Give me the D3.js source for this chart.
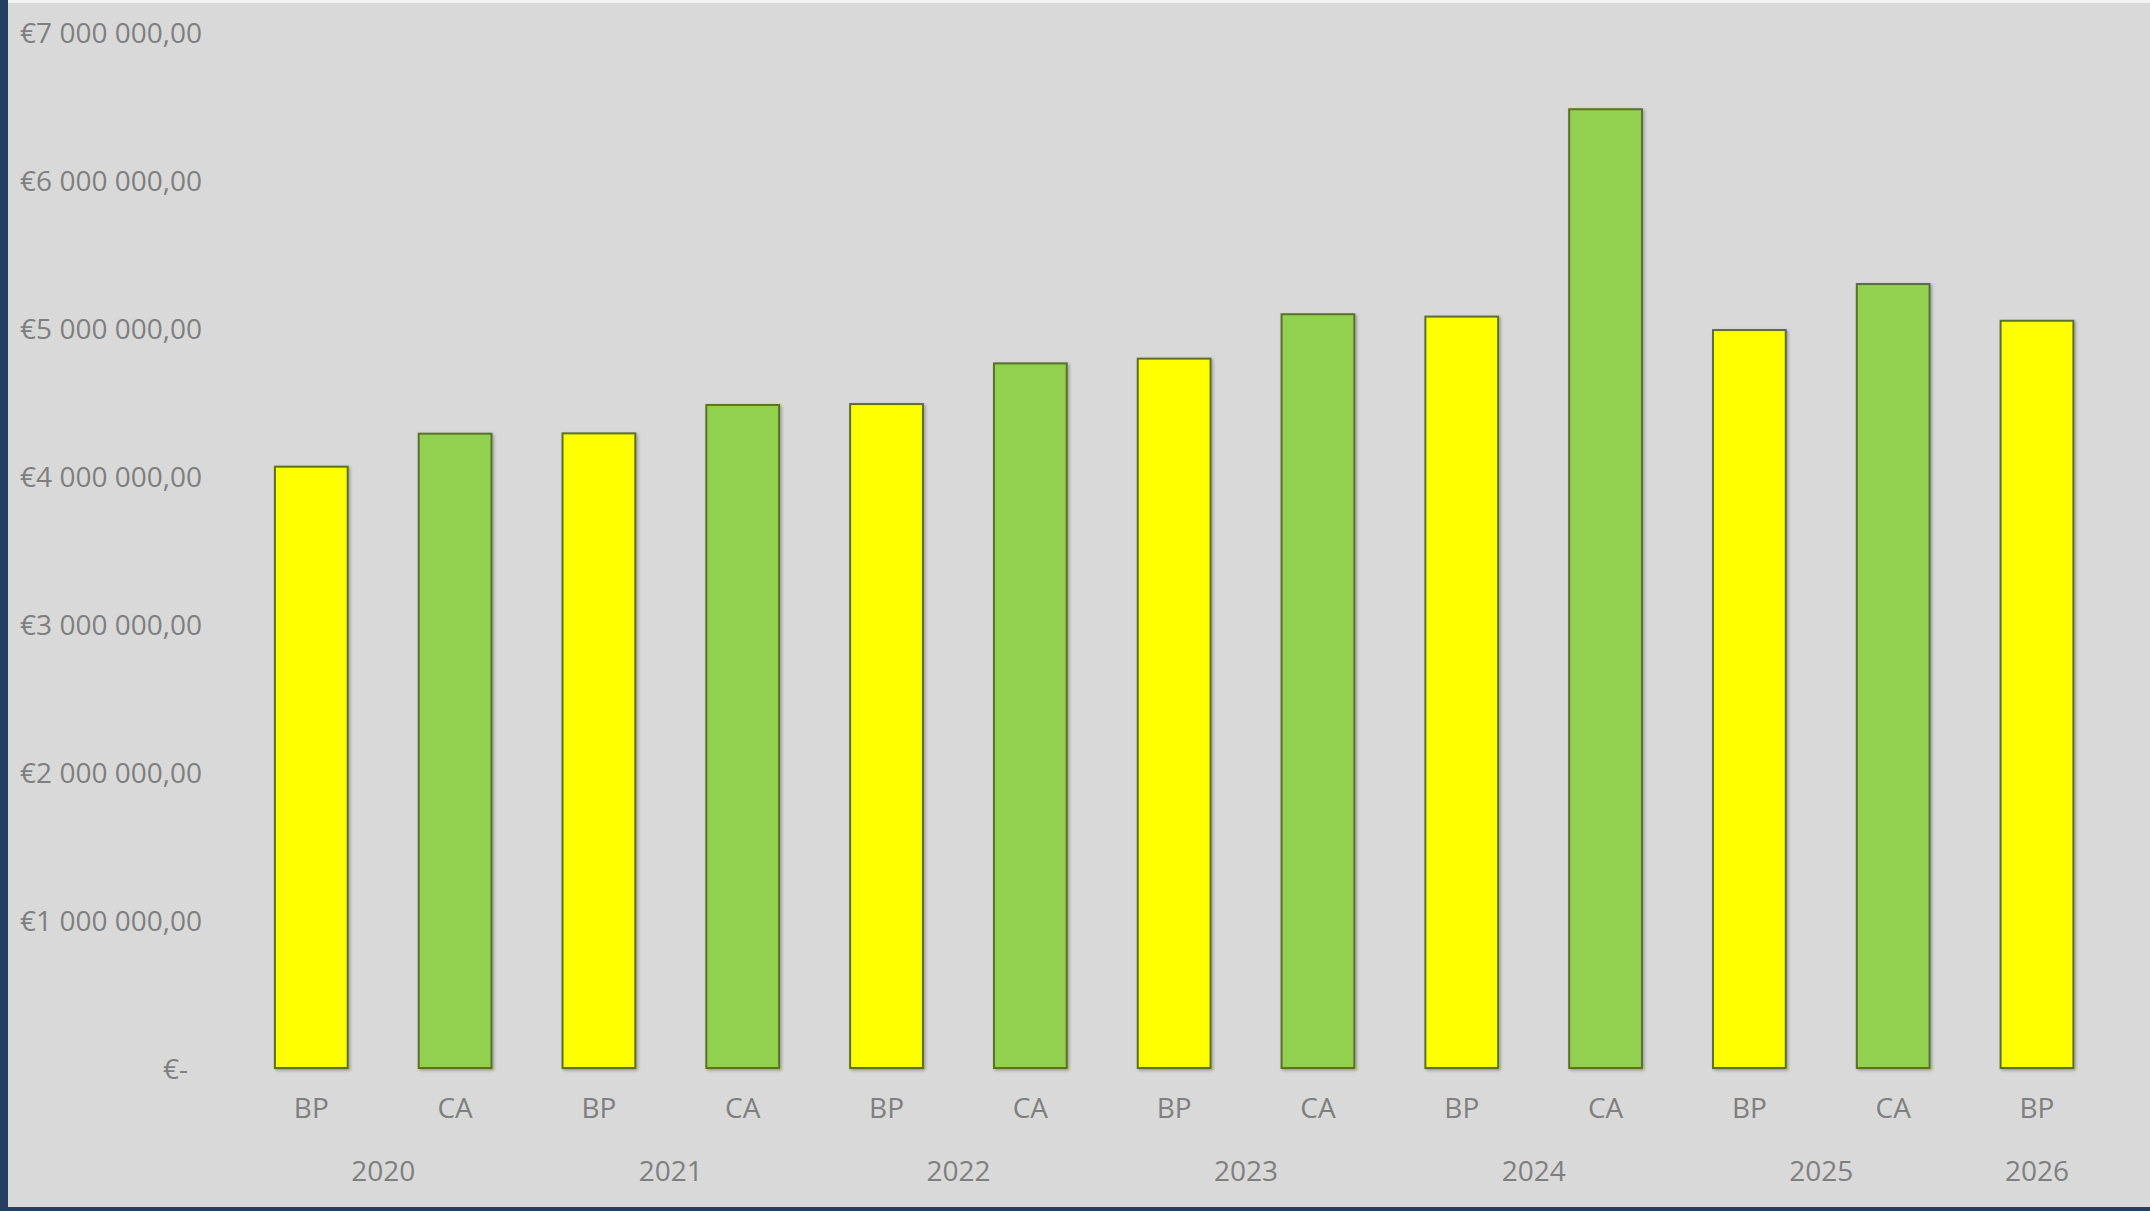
<!DOCTYPE html>
<html>
<head>
<meta charset="utf-8">
<script src="https://cdn.jsdelivr.net/npm/d3@7"></script>
<style>
  html, body { margin: 0; padding: 0; background: #D9D9D9; }
  svg { display: block; }
  text { font-family: "Open Sans", "Noto Sans", sans-serif; fill: #7F7F7F; }
</style>
</head>
<body>
<script>
// ---- Data ----
const years = ["2020", "2021", "2022", "2023", "2024", "2025", "2026"];
const seriesNames = ["BP", "CA"];
const bpValues = [4063000, 4288000, 4486000, 4793000, 5077000, 4986000, 5049000];
const caValues = [4286000, 4480000, 4761000, 5093000, 6478000, 5297000, null];
const yTicks = [0, 1000000, 2000000, 3000000, 4000000, 5000000, 6000000, 7000000];
const seriesColors = ["#FFFF00", "#92D050"];

// ---- Build rows ----
const rows = [];
years.forEach((yr, i) => {
  [bpValues[i], caValues[i]].forEach((v, s) => {
    if (v !== null && v !== undefined) {
      rows.push({ id: yr + "-" + seriesNames[s], year: yr, series: seriesNames[s], sIdx: s, value: v });
    }
  });
});

const W = 2150, H = 1211;
const FS = 28;
const svg = d3.select("body").append("svg").attr("width", W).attr("height", H);

// background & frame
svg.append("rect").attr("x", 0).attr("y", 0).attr("width", W).attr("height", H).attr("fill", "#D9D9D9");
svg.append("rect").attr("x", 0).attr("y", 0).attr("width", W).attr("height", 3).attr("fill", "#F2F2F2");
svg.append("rect").attr("x", 0).attr("y", 0).attr("width", 8).attr("height", H).attr("fill", "#243F60");
svg.append("rect").attr("x", 0).attr("y", 1207).attr("width", W).attr("height", 4).attr("fill", "#243F60");

const defs = svg.append("defs");
const f = defs.append("filter").attr("id", "shadow").attr("x", "-20%").attr("y", "-20%").attr("width", "140%").attr("height", "140%");
f.append("feDropShadow").attr("dx", 1.5).attr("dy", 1.5).attr("stdDeviation", 1.6)
  .attr("flood-color", "#000").attr("flood-opacity", 0.3);

// scales
const x = d3.scaleBand()
  .domain(rows.map(d => d.id))
  .range([239.4, 2108.9])
  .paddingInner(0.494)
  .paddingOuter(0.247);

const y = d3.scaleLinear().domain([0, 7000000]).range([1068, 32]);

// bars
svg.append("g").selectAll("rect.bar").data(rows).join("rect")
  .attr("class", "bar")
  .attr("x", d => x(d.id))
  .attr("y", d => y(d.value))
  .attr("width", x.bandwidth())
  .attr("height", d => y(0) - y(d.value))
  .attr("fill", d => seriesColors[d.sIdx])
  .attr("stroke", "#5B6F2D")
  .attr("stroke-width", 2)
  .attr("filter", "url(#shadow)");

// y axis
const locale = d3.formatLocale({ decimal: ",", thousands: " ", grouping: [3], currency: ["€", ""] });
const fmt = locale.format("$,.2f");
const yAxis = d3.axisLeft(y).tickValues(yTicks).tickSize(0).tickPadding(0)
  .tickFormat(d => d === 0 ? "€-" : fmt(d));
const gy = svg.append("g").attr("transform", "translate(202,0)").call(yAxis);
gy.select(".domain").remove();
gy.selectAll("text")
  .attr("font-size", FS)
  .attr("font-family", "'Open Sans', sans-serif")
  .attr("fill", "#7F7F7F")
  .attr("dy", "0.36em")
  .attr("x", d => d === 0 ? -14 : 0);

// x axis (series labels)
const xAxis = d3.axisBottom(x).tickSize(0).tickPadding(0)
  .tickFormat(id => rows.find(r => r.id === id).series);
const gx = svg.append("g").attr("transform", "translate(0,1108)").call(xAxis);
gx.select(".domain").remove();
gx.selectAll("text")
  .attr("font-size", FS)
  .attr("font-family", "'Open Sans', sans-serif")
  .attr("fill", "#7F7F7F")
  .attr("y", 0)
  .attr("dy", "0.36em");

// year labels
const yearGroups = d3.groups(rows, d => d.year);
svg.append("g").selectAll("text.year").data(yearGroups).join("text")
  .attr("class", "year")
  .attr("x", ([yr, rs]) => {
    const first = x(rs[0].id), last = x(rs[rs.length - 1].id) + x.bandwidth();
    return (first + last) / 2;
  })
  .attr("y", 1171)
  .attr("dy", "0.36em")
  .attr("text-anchor", "middle")
  .attr("font-size", FS)
  .attr("fill", "#7F7F7F")
  .text(([yr]) => yr);
</script>
</body>
</html>
